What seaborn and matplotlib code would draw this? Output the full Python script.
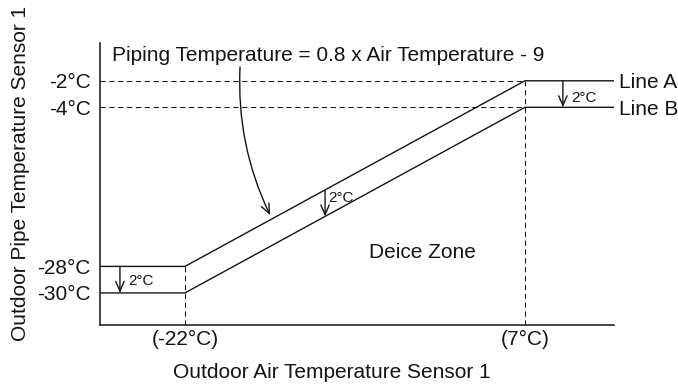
import numpy as np
import pandas as pd
import matplotlib
matplotlib.use("Agg")
import matplotlib.pyplot as plt
import seaborn as sns

# Outdoor air temperatures (°C) where the deice lines bend
air_knee = [-22, 7]
# Pipe temperature (°C) of each line at those two knees
line_a = [-28, -2]
line_b = [-30, -4]
line_names = ["Line A", "Line B"]
gap_label = "2°C"

x_tick_labels = ["(-22°C)", "(7°C)"]
y_ticks = [-30, -28, -4, -2]
y_tick_labels = ["-30°C", "-28°C", "-4°C", "-2°C"]

formula = "Piping Temperature = 0.8 x Air Temperature - 9"
zone_label = "Deice Zone"
x_title = "Outdoor Air Temperature Sensor 1"
y_title = "Outdoor Pipe Temperature Sensor 1"

INK = "#141414"
BIG = 15
SMALL = 11

sns.set_style("white")
plt.rcParams["font.family"] = ["Liberation Sans", "DejaVu Sans"]

# Schematic pipe-temperature axis: the span between the two knees is drawn
# at half scale so the 2°C bands stay readable.
LO, HI, K = min(line_a[0], line_b[0]) + 2, max(line_a[1], line_b[1]) - 2, 0.5


def fwd(y):
    y = np.asarray(y, dtype=float)
    return np.where(y < LO, y, np.where(y > HI, y - (1 - K) * (HI - LO), LO + K * (y - LO)))


def inv(v):
    v = np.asarray(v, dtype=float)
    top = LO + K * (HI - LO)
    return np.where(v < LO, v, np.where(v > top, v + (1 - K) * (HI - LO), LO + (v - LO) / K))


XLIM = (-29.25, 14.6)
YLIM = (-32.42, 0.85)

rows = []
for name, (y0, y1) in zip(line_names, [line_a, line_b]):
    xs = [XLIM[0], air_knee[0], air_knee[1], XLIM[1]]
    ys = [y0, y0, y1, y1]
    rows += [{"air": x, "pipe": y, "line": name} for x, y in zip(xs, ys)]
df = pd.DataFrame(rows)

fig = plt.figure(figsize=(6.78, 3.85), dpi=100)
ax = fig.add_axes([100 / 678, 60 / 385, 514 / 678, 282 / 385])

sns.lineplot(data=df, x="air", y="pipe", hue="line", palette=[INK, INK],
             estimator=None, sort=False, legend=False, lw=1.0, ax=ax)

ax.set_yscale("function", functions=(fwd, inv))
ax.set_xlim(*XLIM)
ax.set_ylim(*YLIM)

# Dashed guides to the knees
dash = dict(color=INK, lw=0.75, linestyle=(0, (5, 3.5)))
for y in (line_a[1], line_b[1]):
    ax.plot([XLIM[0], air_knee[1]], [y, y], **dash)
ax.plot([air_knee[0], air_knee[0]], [YLIM[0], line_a[0]], **dash)
ax.plot([air_knee[1], air_knee[1]], [YLIM[0], line_a[1]], **dash)

# Spines and ticks
sns.despine(ax=ax)
for s in ("left", "bottom"):
    ax.spines[s].set_color(INK)
    ax.spines[s].set_linewidth(1.1)
ax.set_xticks(air_knee)
ax.set_xticklabels(x_tick_labels)
ax.set_yticks(y_ticks)
ax.set_yticklabels(y_tick_labels)
ax.yaxis.set_minor_locator(matplotlib.ticker.NullLocator())
ax.tick_params(axis="both", length=0, labelsize=BIG, colors=INK)
ax.tick_params(axis="y", pad=6.5)
ax.tick_params(axis="x", pad=3.5)

ax.set_xlabel(x_title, fontsize=BIG, color=INK, va="baseline")
ax.xaxis.set_label_coords(0.451, -0.188)
ax.set_ylabel(y_title, fontsize=BIG, color=INK, va="baseline")
ax.yaxis.set_label_coords(-0.144, 0.539)


def y_on(line, x):
    """Pipe temperature on a sloped line at air temperature x (straight on screen)."""
    f = (x - air_knee[0]) / (air_knee[1] - air_knee[0])
    f = min(max(f, 0.0), 1.0)
    return float(inv(fwd(line[0]) + f * (fwd(line[1]) - fwd(line[0]))))


arrow = dict(arrowstyle="->,head_length=7,head_width=3", mutation_scale=1,
             color=INK, lw=1.0, shrinkA=0, shrinkB=0)

# 2°C offset markers between Line A and Line B
for x, off in [(-27.55, (6, -13.5)), (-10.05, (2.5, -8.5)), (10.24, (6, -15.5))]:
    ya, yb = y_on(line_a, x), y_on(line_b, x)
    ax.annotate("", xy=(x, yb), xytext=(x, ya), arrowprops=arrow)
    ax.annotate(gap_label, xy=(x, ya), xytext=off, textcoords="offset points",
                fontsize=SMALL, color=INK, va="baseline", ha="left")

# Formula with its curved pointer onto Line A
ax.text(0.0233, 0.936, formula, transform=ax.transAxes, fontsize=BIG,
        color=INK, va="baseline", ha="left")
x_tip = -14.58
ax.annotate("", xy=(x_tip, y_on(line_a, x_tip)), xytext=(0.2724, 0.915),
            xycoords="data", textcoords="axes fraction",
            arrowprops=dict(arrow, shrinkB=3, connectionstyle="arc3,rad=0.13"))

ax.text(0.628, 0.2376, zone_label, transform=ax.transAxes, fontsize=BIG,
        color=INK, va="baseline", ha="center")

# Line names at the right end
for name, line in zip(line_names, [line_a, line_b]):
    ax.text(1.0097, line[1], name, transform=ax.get_yaxis_transform(),
            fontsize=BIG, color=INK, va="center_baseline", ha="left")

fig.savefig("out.png", dpi=100)
